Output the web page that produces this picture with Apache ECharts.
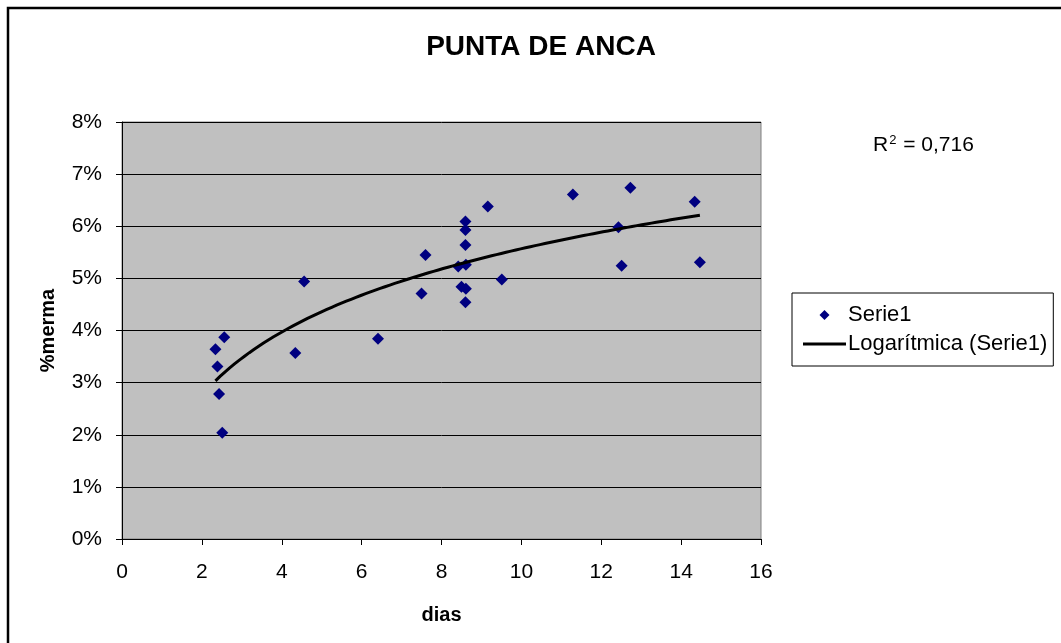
<!DOCTYPE html>
<html>
<head>
<meta charset="utf-8">
<script src="https://cdn.jsdelivr.net/npm/echarts@6/dist/echarts.min.js"></script>
<style>
html,body{margin:0;padding:0;background:#fff;}
#c{width:1061px;height:643px;}
</style>
</head>
<body>
<div id="c"></div>
<script>
// Data
const title = 'PUNTA DE ANCA';
const xName = 'dias';
const yName = '%merma';
const seriesName = 'Serie1';
const trendName = 'Logarítmica (Serie1)';
const r2Text = '0,716';
const dias = [4.56, 2.56, 2.34, 2.39, 4.34, 2.43, 2.51,
  9.16, 8.60, 8.60, 8.60, 7.60, 8.42, 8.61, 9.51, 8.50, 8.61, 7.50, 8.60,
  6.41,
  11.29, 12.73, 14.34, 12.43, 12.51, 14.47];
const merma = [4.94, 3.87, 3.64, 3.31, 3.57, 2.78, 2.04,
  6.38, 6.09, 5.93, 5.64, 5.45, 5.23, 5.26, 4.98, 4.84, 4.80, 4.71, 4.54,
  3.84,
  6.61, 6.74, 6.47, 5.98, 5.24, 5.31];
const xTicks = {min: 0, max: 16, interval: 2};
const yTicks = {min: 0, max: 8, interval: 1};

// Logarithmic trend line (least squares on ln x), like the spreadsheet's trendline
const lx = dias.map(Math.log);
const n = dias.length;
const mx = lx.reduce((s, v) => s + v, 0) / n;
const my = merma.reduce((s, v) => s + v, 0) / n;
let sxy = 0, sxx = 0;
for (let i = 0; i < n; i++) { sxy += (lx[i] - mx) * (merma[i] - my); sxx += (lx[i] - mx) ** 2; }
const slope = sxy / sxx;
const icpt = my - slope * mx;
const xMin = Math.min(...dias), xMax = Math.max(...dias);
const trend = [];
for (let k = 0; k <= 100; k++) {
  const x = xMin + (xMax - xMin) * k / 100;
  trend.push([x, slope * Math.log(x) + icpt]);
}

const font = "'Liberation Sans', Arial, sans-serif";
const diamond = 'path://M0,-1L1,0L0,1L-1,0Z';
const lineIcon = 'path://M0,0H43V3H0Z';
const chart = echarts.init(document.getElementById('c'), null, {renderer: 'canvas'});
chart.setOption({
  animation: false,
  backgroundColor: '#fff',
  textStyle: {fontFamily: font, color: '#000'},
  title: {
    text: title, left: 536, top: 28, textAlign: 'center',
    textStyle: {fontFamily: font, fontSize: 28, fontWeight: 'bold', color: '#000'}
  },
  grid: {left: 122, top: 122, right: 300, bottom: 104, show: true, backgroundColor: '#c0c0c0', borderColor: '#808080', borderWidth: 1},
  xAxis: {
    type: 'value', min: xTicks.min, max: xTicks.max, interval: xTicks.interval,
    name: xName, nameLocation: 'middle', nameGap: 66,
    nameTextStyle: {fontFamily: font, fontSize: 20, fontWeight: 'bold', color: '#000'},
    axisLine: {show: true, onZero: false, lineStyle: {color: '#000', width: 1}},
    axisTick: {show: true, length: 6, lineStyle: {color: '#000'}},
    axisLabel: {fontFamily: font, fontSize: 21, color: '#000', margin: 23},
    splitLine: {show: false}
  },
  yAxis: {
    type: 'value', min: yTicks.min, max: yTicks.max, interval: yTicks.interval,
    name: yName, nameLocation: 'middle', nameGap: 64, nameRotate: 90,
    nameTextStyle: {fontFamily: font, fontSize: 20, fontWeight: 'bold', color: '#000'},
    axisLine: {show: true, onZero: false, lineStyle: {color: '#000', width: 1}},
    axisTick: {show: true, length: 6, lineStyle: {color: '#000'}},
    axisLabel: {fontFamily: font, fontSize: 21, color: '#000', margin: 20, formatter: v => v + '%'},
    splitLine: {show: true, lineStyle: {color: '#000', width: 1}}
  },
  legend: {
    orient: 'vertical', left: 792, top: 293,
    backgroundColor: '#fff', borderColor: '#000', borderWidth: 1,
    padding: [11, 6, 11, 11], itemGap: 7, itemWidth: 43, itemHeight: 10,
    textStyle: {fontFamily: font, fontSize: 22, color: '#000', padding: [0, 0, 0, -3]},
    data: [
      {name: seriesName, icon: diamond, itemStyle: {color: '#000080', opacity: 1}},
      {name: trendName, icon: lineIcon, itemStyle: {color: '#000', opacity: 1}}
    ]
  },
  graphic: [
    {type: 'rect', shape: {x: 8, y: 8, width: 1060, height: 640}, style: {fill: 'none', stroke: '#000', lineWidth: 2.5}, silent: true, z: 100},
    {type: 'text', left: 873, top: 134, style: {
      rich: {a: {fontFamily: font, fontSize: 21, fill: '#000'}, s: {fontFamily: font, fontSize: 13, fill: '#000', verticalAlign: 'top', padding: [0, 1, 10, 1]}},
      text: '{a|R}{s|2}{a| = ' + r2Text + '}'
    }}
  ],
  series: [
    {
      name: seriesName, type: 'scatter', symbol: diamond, symbolSize: 12,
      itemStyle: {color: '#000080', opacity: 1},
      data: dias.map((d, i) => [d, merma[i]]), z: 3
    },
    {
      name: trendName, type: 'line', showSymbol: false, symbol: 'none',
      lineStyle: {color: '#000', width: 3}, itemStyle: {color: '#000'},
      data: trend, z: 4
    }
  ]
});
</script>
</body>
</html>
